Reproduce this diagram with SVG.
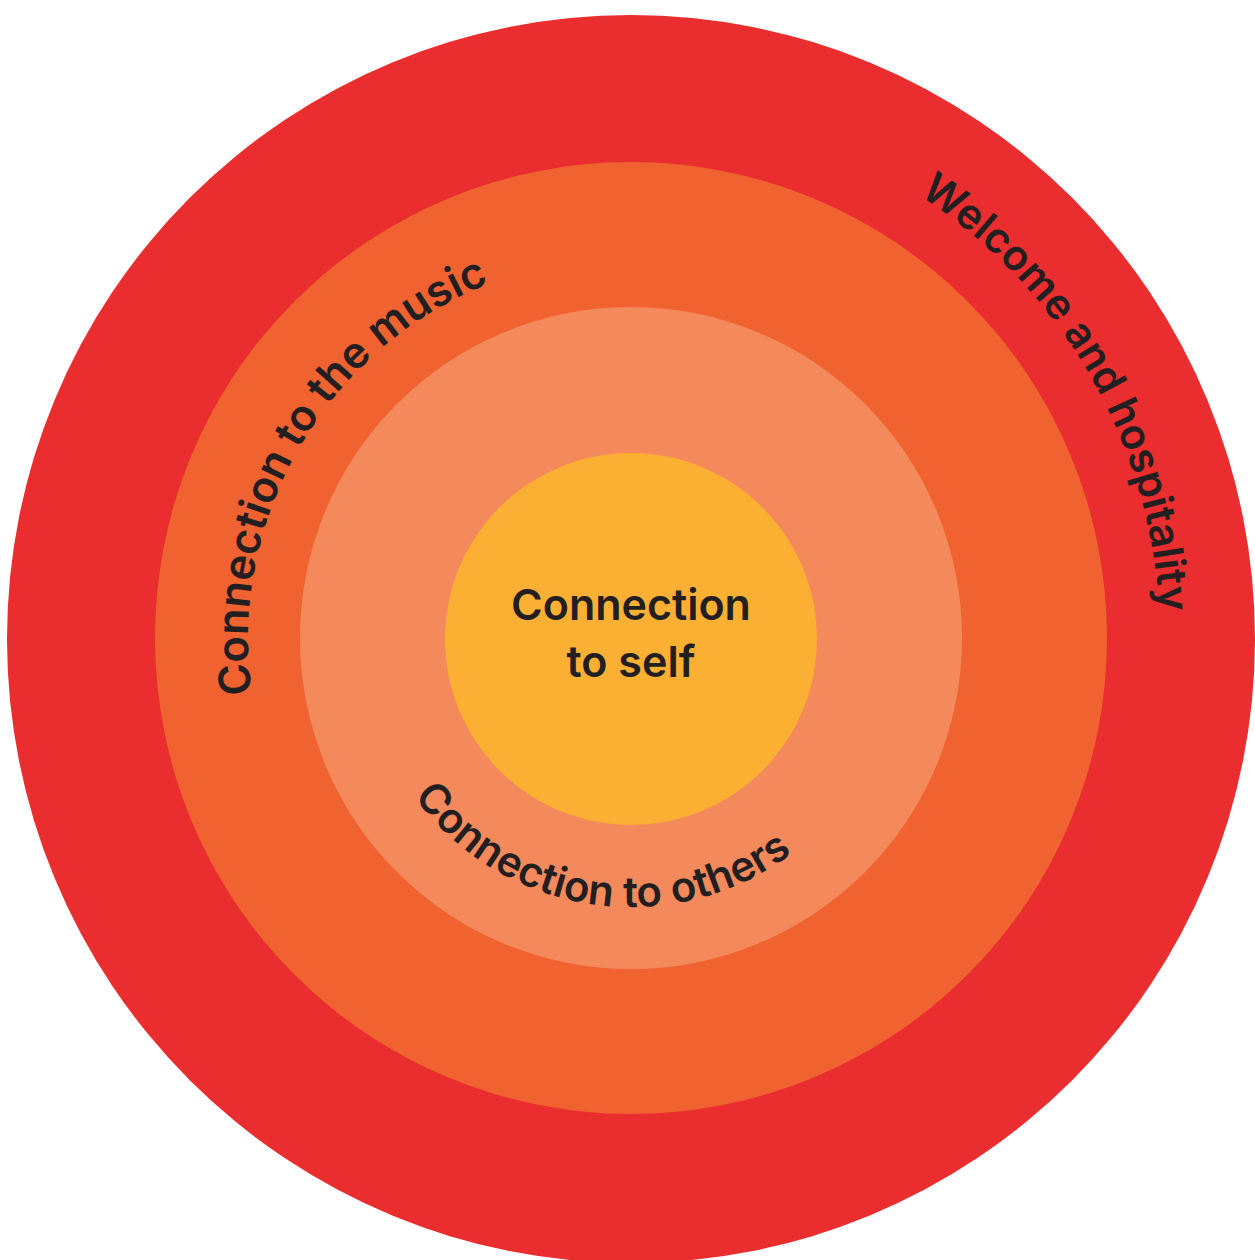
<svg xmlns="http://www.w3.org/2000/svg" xmlns:xlink="http://www.w3.org/1999/xlink" width="1255" height="1260" viewBox="0 0 1255 1260">
  <style>
    .lbl { font-family: Inter, "Liberation Sans", sans-serif; font-weight: 600; fill: #231F20; }
    .arc { font-size: 42px; }
    .arc-lg { font-size: 43.5px; }
    .ctr { font-size: 43px; text-anchor: middle; }
  </style>
  <defs>
    <path id="pWelcome" d="M 407.4 159.6 A 529 529 0 0 1 934.4 1072.4" fill="none"/>
    <path id="pMusic" d="M 411.3 952.7 A 383 383 0 0 1 792.9 291.9" fill="none"/>
    <path id="pOthers" d="M 363.5 622.6 A 268 268 0 0 0 891.6 701.6" fill="none"/>
  </defs>
  <rect width="1255" height="1260" fill="#FFFFFF"/>
  <g id="ring-welcome">
    <circle cx="631" cy="639" r="624" fill="#EA2D2E"/>
    <text class="lbl arc"><textPath xlink:href="#pWelcome" href="#pWelcome" startOffset="50%" text-anchor="middle">Welcome and hospitality</textPath></text>
  </g>
  <g id="ring-music">
    <circle cx="631" cy="638" r="476" fill="#F06331"/>
    <text class="lbl arc-lg"><textPath xlink:href="#pMusic" href="#pMusic" startOffset="50%" text-anchor="middle">Connection to the music</textPath></text>
  </g>
  <g id="ring-others">
    <circle cx="631" cy="638" r="331" fill="#F48A5C"/>
    <text class="lbl arc"><textPath xlink:href="#pOthers" href="#pOthers" startOffset="50%" text-anchor="middle">Connection to others</textPath></text>
  </g>
  <g id="core-self">
    <circle cx="631" cy="639" r="186" fill="#FBB034"/>
    <text class="lbl ctr" x="631" y="620">Connection</text>
    <text class="lbl ctr" x="631" y="677">to self</text>
  </g>
  <g id="connectors"/>
</svg>
